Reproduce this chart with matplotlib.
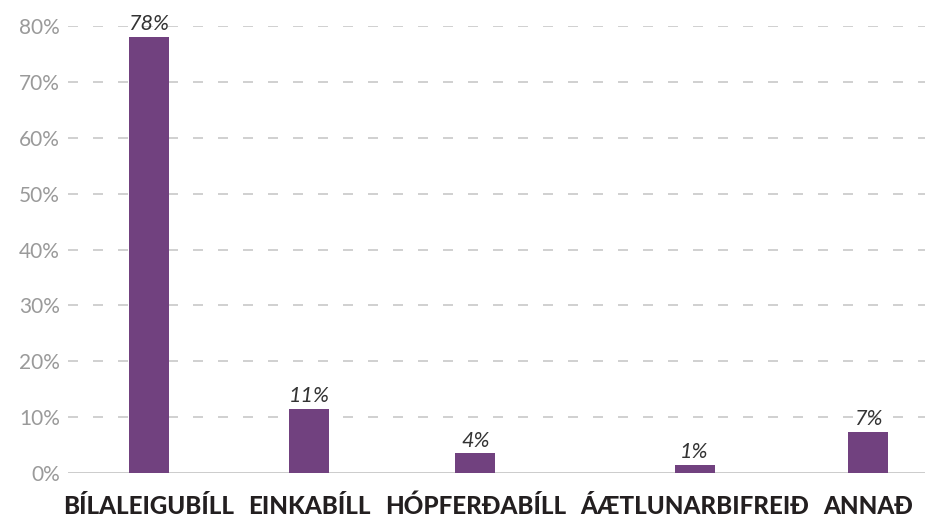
import matplotlib
matplotlib.use('Agg')
import matplotlib.pyplot as plt

plt.rcParams['font.family'] = ['Lato', 'DejaVu Sans']

categories = ['BÍLALEIGUBÍLL', 'EINKABÍLL', 'HÓPFERÐABÍLL', 'ÁÆTLUNARBIFREIÐ', 'ANNAÐ']
values = [78.1, 11.5, 3.5, 1.4, 7.4]
value_labels = ['78%', '11%', '4%', '1%', '7%']
yticks = [0, 10, 20, 30, 40, 50, 60, 70, 80]

BAR = '#71417f'
GRID = '#c8c8c8'
W, H = 933, 522

fig = plt.figure(figsize=(W / 100, H / 100), dpi=100)
# axes in pixel units so label layout and bars share coordinates
ax = fig.add_axes([68 / W, (H - 473) / H, (925 - 68) / W, (473 - 26) / H])
ax.set_xlim(68, 925)
ax.set_ylim(0, 80)
for s in ax.spines.values():
    s.set_visible(False)

# category labels laid out left to right with equal gaps, like the original
renderer = fig.canvas.get_renderer()
texts = [fig.text(0, 0, c, fontsize=17.4, fontweight='black', color='#231f20',
                  ha='center', va='top') for c in categories]
widths = [t.get_window_extent(renderer).width for t in texts]
left, right = 63, 913
gap = (right - left - sum(widths)) / (len(widths) - 1)
centers = []
x = left
for w in widths:
    centers.append(x + w / 2)
    x += w + gap
for t, c in zip(texts, centers):
    t.set_position((c / W, (H - 495) / H))

ax.bar(centers, values, width=40, color=BAR, zorder=3)
for c, v, lab in zip(centers, values, value_labels):
    ax.annotate(lab, (c, v), xytext=(0, 2), textcoords='offset points',
                ha='center', va='bottom', fontsize=15.5, style='italic',
                color='#333333', clip_on=False, zorder=4)

for yv in yticks:
    if yv == 0:
        ax.axhline(yv, color=GRID, lw=2, zorder=2)
    else:
        ax.axhline(yv, color=GRID, lw=1.2, dashes=(6, 9), zorder=1)

ax.set_yticks(yticks)
ax.set_yticklabels([f'{v}%' for v in yticks])
ax.set_xticks([])
ax.tick_params(axis='y', length=0, pad=6, labelsize=15, labelcolor='#9a9a9a')

fig.savefig('out.png', dpi=100, facecolor='white')
